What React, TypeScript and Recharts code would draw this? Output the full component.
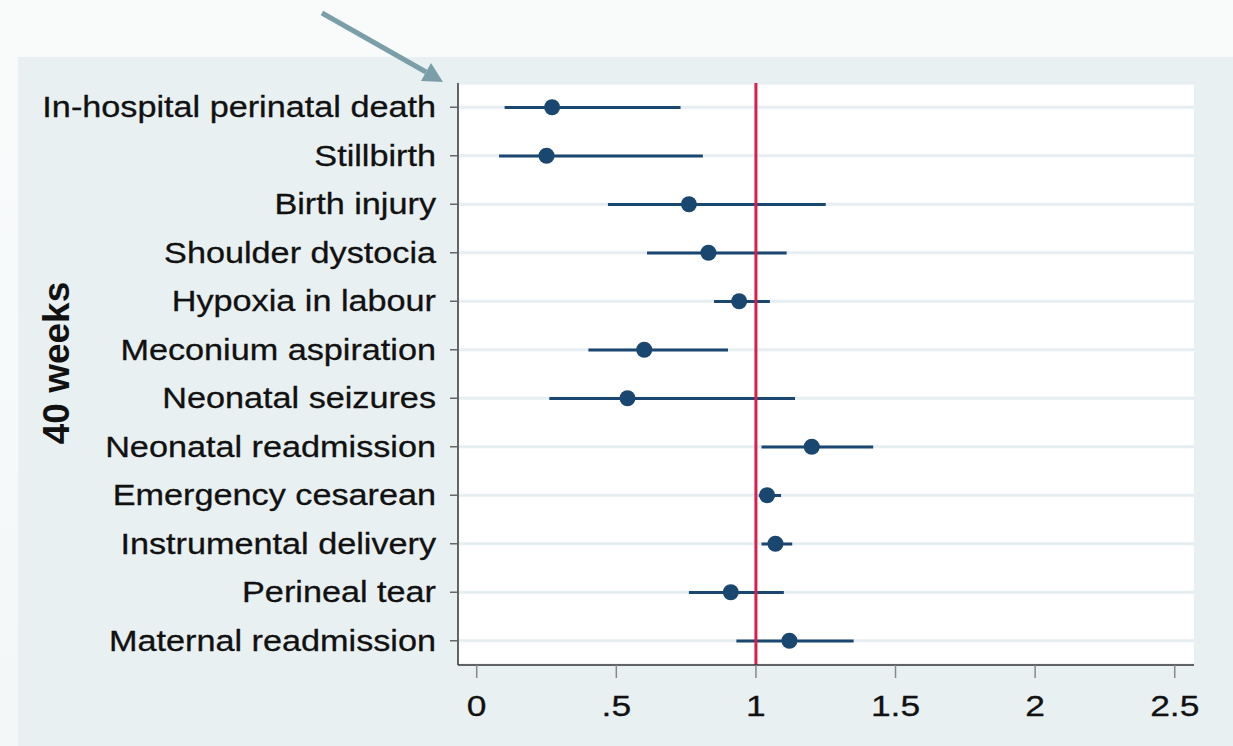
import React from "react"
import {
    ComposedChart,
    Bar,
    Line,
    XAxis,
    YAxis,
    CartesianGrid,
    ReferenceLine
} from "recharts"

// outcomes, top to bottom
const outcomes = [
    "In-hospital perinatal death",
    "Stillbirth",
    "Birth injury",
    "Shoulder dystocia",
    "Hypoxia in labour",
    "Meconium aspiration",
    "Neonatal seizures",
    "Neonatal readmission",
    "Emergency cesarean",
    "Instrumental delivery",
    "Perineal tear",
    "Maternal readmission"
]

// point estimates and 95% CI bounds
const estimates = [0.27, 0.25, 0.76, 0.83, 0.94, 0.60, 0.54, 1.20, 1.04, 1.07, 0.91, 1.12]
const ciLow = [0.10, 0.08, 0.47, 0.61, 0.85, 0.40, 0.26, 1.02, 1.01, 1.02, 0.76, 0.93]
const ciHigh = [0.73, 0.81, 1.25, 1.11, 1.05, 0.90, 1.14, 1.42, 1.09, 1.13, 1.10, 1.35]

const xTicks = [0, 0.5, 1, 1.5, 2, 2.5]
const axisTitle = "40 weeks"

const NAVY = "#1a476f"
const RED = "#d4204a"
const FONT = "'Liberation Sans', Arial, sans-serif"
const STRETCH = 1.18

const chartData = outcomes.map((name, i) => ({
    name,
    est: estimates[i],
    ci: [ciLow[i], ciHigh[i]]
}))

const fmtTick = (v: number) => {
    if (v === 0.5) return ".5"
    return `${v}`
}

const YTick = (props: any) => {
    const { x, y, payload } = props
    return (
        <g transform={`translate(${x},${y})`}>
            <text
                transform={`scale(${STRETCH},1)`}
                x={0}
                y={10}
                textAnchor="end"
                fontFamily={FONT}
                fontSize={29}
                fill="#111"
                stroke="#111"
                strokeWidth={0.3}
            >
                {payload.value}
            </text>
        </g>
    )
}

const XTick = (props: any) => {
    const { x, y, payload } = props
    return (
        <g transform={`translate(${x},${y})`}>
            <text
                transform={`scale(${STRETCH},1)`}
                x={0}
                y={34}
                textAnchor="middle"
                fontFamily={FONT}
                fontSize={30}
                fill="#111"
                stroke="#111"
                strokeWidth={0.3}
            >
                {fmtTick(payload.value)}
            </text>
        </g>
    )
}

const YTitle = (props: any) => {
    const { viewBox } = props
    const cx = viewBox.x + 69
    const cy = viewBox.y + viewBox.height / 2 - 11
    return (
        <text
            transform={`translate(${cx},${cy}) rotate(-90)`}
            textAnchor="middle"
            fontFamily={FONT}
            fontWeight="bold"
            fontSize={37}
            fill="#111"
        >
            {axisTitle}
        </text>
    )
}

export default function App() {
    return (
        <div
            style={{
                position: "absolute",
                left: 0,
                top: 0,
                width: 1233,
                height: 746,
                background: "linear-gradient(#f9fbfb, #f4f7f8)",
                overflow: "hidden"
            }}
        >
            <div
                style={{
                    position: "absolute",
                    left: 18,
                    top: 57,
                    right: 0,
                    bottom: 0,
                    background: "#e9f0f1"
                }}
            />
            <div style={{ position: "absolute", left: 0, top: 0 }}>
                <ComposedChart
                    width={1233}
                    height={746}
                    data={chartData}
                    layout="vertical"
                    margin={{ top: 83, right: 39, left: 0, bottom: 0 }}
                >
                    <CartesianGrid
                        horizontal={true}
                        vertical={false}
                        stroke="#e6eef1"
                        strokeWidth={3}
                        fill="#ffffff"
                    />
                    <XAxis
                        type="number"
                        domain={[-0.067, 2.569]}
                        ticks={xTicks}
                        allowDataOverflow
                        height={81}
                        tick={<XTick />}
                        tickSize={13}
                        tickMargin={4}
                        tickLine={{ stroke: "#888", strokeWidth: 1.5 }}
                        axisLine={{ stroke: "#333", strokeWidth: 1.5 }}
                    />
                    <YAxis
                        type="category"
                        dataKey="name"
                        width={458}
                        tick={<YTick />}
                        tickSize={8}
                        tickMargin={14}
                        interval={0}
                        tickLine={{ stroke: "#666", strokeWidth: 1.5 }}
                        axisLine={{ stroke: "#333", strokeWidth: 1.5 }}
                        label={<YTitle />}
                    />
                    <Bar
                        dataKey="ci"
                        fill={NAVY}
                        barSize={3}
                        isAnimationActive={false}
                    />
                    <ReferenceLine x={1} stroke={RED} strokeWidth={3} />
                    <Line
                        dataKey="est"
                        stroke="none"
                        dot={{ r: 8, fill: NAVY, stroke: "none" }}
                        activeDot={false}
                        isAnimationActive={false}
                    />
                </ComposedChart>
            </div>
            <svg
                width={1233}
                height={100}
                style={{ position: "absolute", left: 0, top: 0 }}
            >
                <line x1={322} y1={13} x2={426} y2={72} stroke="#7b9fa8" strokeWidth={5} />
                <polygon points="443,82 431,63 421,81" fill="#7b9fa8" />
            </svg>
        </div>
    )
}
